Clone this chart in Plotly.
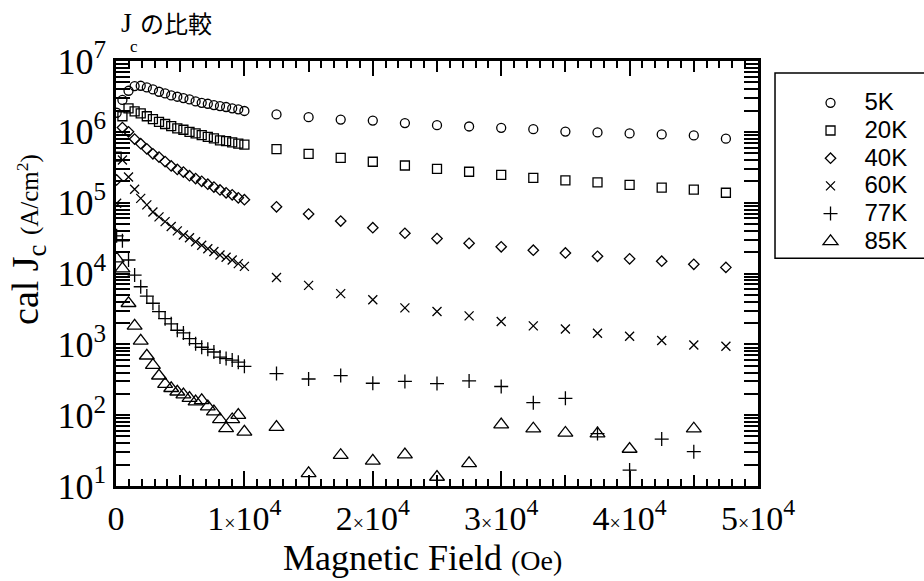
import plotly.graph_objects as go

# Magnetic field (Oe): dense low-field sweep followed by 2500 Oe steps
field_low = [50, 500, 975, 1450, 1925, 2400, 2875, 3350, 3825, 4300, 4775,
             5250, 5725, 6200, 6675, 7150, 7625, 8100, 8575, 9050, 9525, 10000]
field_high = [12500, 15000, 17500, 20000, 22500, 25000, 27500, 30000,
              32500, 35000, 37500, 40000, 42500, 45000, 47500]
field = field_low + field_high

# Calculated critical current density Jc (A/cm^2) at each temperature
jc_5k = [1.86e6, 2.82e6, 3.80e6, 4.43e6, 4.47e6, 4.24e6, 3.97e6, 3.68e6, 3.49e6, 3.27e6, 3.13e6,
         3.00e6, 2.87e6, 2.69e6, 2.57e6, 2.49e6, 2.39e6, 2.31e6, 2.24e6, 2.15e6, 2.08e6, 1.97e6,
         1.76e6, 1.61e6, 1.49e6, 1.44e6, 1.33e6, 1.24e6, 1.19e6, 1.14e6,
         1.09e6, 1.01e6, 9.8e5, 9.5e5, 9.2e5, 8.9e5, 8.0e5]
jc_20k = [4.47e5, 1.66e6, 2.14e6, 1.95e6, 1.82e6, 1.66e6, 1.51e6, 1.38e6, 1.29e6, 1.20e6, 1.12e6,
          1.07e6, 1.00e6, 9.5e5, 9.0e5, 8.5e5, 8.1e5, 7.6e5, 7.4e5, 7.1e5, 6.8e5, 6.6e5,
          5.7e5, 4.89e5, 4.30e5, 3.78e5, 3.35e5, 3.00e5, 2.73e5, 2.47e5,
          2.24e5, 2.07e5, 1.93e5, 1.78e5, 1.63e5, 1.53e5, 1.38e5]
jc_40k = [2.09e5, 1.15e6, 1.00e6, 7.9e5, 6.8e5, 5.75e5, 4.9e5, 4.4e5, 3.8e5, 3.3e5, 2.95e5,
          2.7e5, 2.4e5, 2.19e5, 2.0e5, 1.82e5, 1.66e5, 1.51e5, 1.38e5, 1.29e5, 1.17e5, 1.10e5,
          8.75e4, 6.9e4, 5.5e4, 4.43e4, 3.7e4, 3.11e4, 2.67e4, 2.38e4,
          2.13e4, 1.95e4, 1.75e4, 1.61e4, 1.49e4, 1.35e4, 1.22e4]
jc_60k = [9.8e4, 4.0e5, 2.3e5, 1.55e5, 1.15e5, 9.3e4, 7.4e4, 6.3e4, 5.4e4, 4.6e4, 4.0e4,
          3.5e4, 3.2e4, 2.8e4, 2.5e4, 2.24e4, 2.04e4, 1.82e4, 1.70e4, 1.55e4, 1.38e4, 1.26e4,
          8.8e3, 6.8e3, 5.2e3, 4.26e3, 3.27e3, 2.9e3, 2.52e3, 2.1e3,
          1.82e3, 1.65e3, 1.43e3, 1.30e3, 1.13e3, 9.8e2, 9.4e2]
jc_77k = [3.4e4, 2.9e4, 1.55e4, 9.5e3, 6.5e3, 4.8e3, 3.8e3, 2.9e3, 2.3e3, 1.95e3, 1.58e3,
          1.45e3, 1.20e3, 1.02e3, 9.1e2, 8.5e2, 7.8e2, 6.6e2, 6.3e2, 6.0e2, 5.6e2, 4.9e2,
          387, 324, 362, 282, 299, 279, 304, 254,
          150, 173, 55, 16.8, 46, 30.5, None]
jc_85k = [1.62e4, 1.17e4, 3.8e3, 1.82e3, 1.12e3, 690, 510, 360, 275, 240, 214,
          195, 174, 155, 162, 132, 112, 87, 65, 87, 100, 58,
          68, 15.1, 27.2, 22.6, 27.7, 13.4, 20.9, 73.6,
          64.4, 56.1, 54.8, 33.3, None, 64.4, None]

series = [
    ("5K", jc_5k, "circle-open", 9),
    ("20K", jc_20k, "square-open", 9),
    ("40K", jc_40k, "diamond-open", 8),
    ("60K", jc_60k, "x-thin-open", 9),
    ("77K", jc_77k, "cross-thin-open", 10),
    ("85K", jc_85k, "triangle-up-open", 13),
]

# Axis tick values and labels
x_ticks = [0, 10000, 20000, 30000, 40000, 50000]
x_labels = ["0",
            "1<span style='font-size:20px'>×</span>10<sup>4</sup>",
            "2<span style='font-size:20px'>×</span>10<sup>4</sup>",
            "3<span style='font-size:20px'>×</span>10<sup>4</sup>",
            "4<span style='font-size:20px'>×</span>10<sup>4</sup>",
            "5<span style='font-size:20px'>×</span>10<sup>4</sup>"]
y_ticks = [1e1, 1e2, 1e3, 1e4, 1e5, 1e6, 1e7]
y_labels = ["10<sup>1</sup>", "10<sup>2</sup>", "10<sup>3</sup>", "10<sup>4</sup>",
            "10<sup>5</sup>", "10<sup>6</sup>", "10<sup>7</sup>"]
y_minor = [m * 10 ** k for k in range(1, 7) for m in range(2, 10)]

SERIF = "Liberation Serif, Times New Roman, serif"
SANS = "Liberation Sans, Arial, sans-serif"

fig = go.Figure()
for name, values, symbol, size in series:
    fig.add_trace(go.Scatter(
        x=field, y=values, mode="markers",
        name=f"<span style='font-size:24px'>{name}</span>",
        marker=dict(symbol=symbol, size=size, color="black",
                    line=dict(color="black", width=1.3)),
    ))

fig.update_xaxes(
    range=[0, 50000], tickmode="array", tickvals=x_ticks, ticktext=x_labels,
    ticks="inside", ticklen=15, tickwidth=2, tickcolor="black",
    minor=dict(tickmode="linear", tick0=0, dtick=1000, ticks="inside",
               ticklen=7, tickwidth=1.5, tickcolor="black", showgrid=False),
    showline=True, linecolor="black", linewidth=2.5, mirror="allticks",
    showgrid=False, zeroline=False,
    tickfont=dict(family=SERIF, size=34, color="black"),
)
fig.update_yaxes(
    type="log", range=[1, 7], tickmode="array", tickvals=y_ticks, ticktext=y_labels,
    ticks="inside", ticklen=14, tickwidth=2, tickcolor="black",
    minor=dict(tickmode="array", tickvals=y_minor, ticks="inside",
               ticklen=7, tickwidth=1.5, tickcolor="black", showgrid=False),
    showline=True, linecolor="black", linewidth=2.5, mirror="allticks",
    showgrid=False, zeroline=False,
    tickfont=dict(family=SERIF, size=36, color="black"),
)

# Intermediate ticks every 5000 Oe on a companion axis
fig.update_layout(xaxis2=dict(
    overlaying="x", matches="x", side="bottom", range=[0, 50000],
    tickmode="linear", tick0=0, dtick=5000, ticks="inside", ticklen=11,
    tickwidth=1.6, tickcolor="black", showticklabels=False,
    showline=False, showgrid=False, zeroline=False, mirror="allticks",
))
fig.add_trace(go.Scatter(x=[0, 50000], y=[None, None], xaxis="x2", yaxis="y",
                         mode="markers", showlegend=False, hoverinfo="skip"))

# Legend frame drawn separately so it can run off the right edge
fig.add_shape(type="rect", xref="paper", yref="paper",
              x0=1.0265, x1=1.30, y0=0.536, y1=0.972,
              line=dict(color="black", width=1.5), fillcolor="white", layer="below")

annotations = [
    dict(text="J", x=0.004, y=1.09, font=dict(family=SERIF, size=28)),
    dict(text="c", x=0.018, y=1.035, font=dict(family=SERIF, size=17)),
    dict(text="の比較", x=0.034, y=1.09, font=dict(family="Noto Sans CJK JP", size=24)),
    dict(text="cal J<sub>c</sub> <span style='font-size:25px'>(A/cm<sup>2</sup>)</span>",
         x=-0.137, y=0.579, textangle=-90, xanchor="center", yanchor="middle",
         font=dict(family=SERIF, size=38)),
    dict(text="Magnetic Field <span style='font-size:28px'>(Oe)</span>",
         x=0.478, y=-0.17, xanchor="center", yanchor="middle",
         font=dict(family=SERIF, size=36)),
]
for a in annotations:
    a.setdefault("xanchor", "left")
    a.setdefault("yanchor", "middle")
    a["xref"] = "paper"
    a["yref"] = "paper"
    a["showarrow"] = False
    a["font"]["color"] = "black"
    fig.add_annotation(**a)

fig.update_layout(
    width=924, height=581,
    margin=dict(l=116, r=166, t=61, b=95),
    paper_bgcolor="white", plot_bgcolor="white",
    showlegend=True,
    legend=dict(x=1.06, y=0.946, xanchor="left", yanchor="top",
                font=dict(family=SANS, size=19, color="black"),
                bgcolor="rgba(0,0,0,0)", borderwidth=0,
                itemwidth=58, tracegroupgap=0),
)

fig.write_html("out.html")
